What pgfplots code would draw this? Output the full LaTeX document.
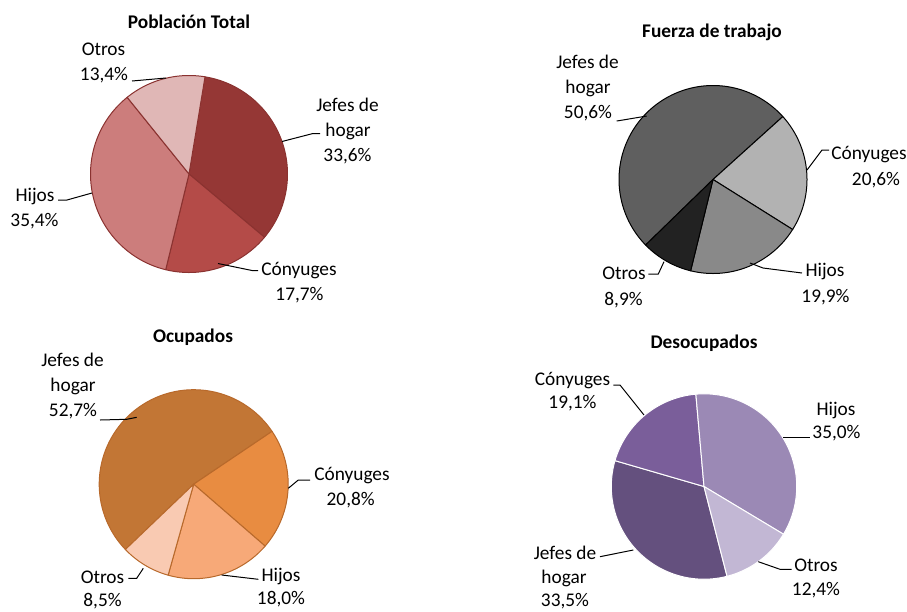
\documentclass[border=0pt]{standalone}
\usepackage{pgfplots}
\pgfplotsset{compat=1.18}
\usepackage{fontspec}
\setmainfont{Carlito}

\definecolor{pA1}{HTML}{953735}
\definecolor{pA2}{HTML}{B44B48}
\definecolor{pA3}{HTML}{CC7D7C}
\definecolor{pA4}{HTML}{E0B7B6}
\definecolor{eA}{HTML}{8A3230}
\definecolor{pB1}{HTML}{5F5F5F}
\definecolor{pB2}{HTML}{B2B2B2}
\definecolor{pB3}{HTML}{898989}
\definecolor{pB4}{HTML}{222222}
\definecolor{eB}{HTML}{000000}
\definecolor{pC1}{HTML}{C27635}
\definecolor{pC2}{HTML}{E88C41}
\definecolor{pC3}{HTML}{F7A978}
\definecolor{pC4}{HTML}{F9CAB2}
\definecolor{eC}{HTML}{B8692B}
\definecolor{pD1}{HTML}{64507E}
\definecolor{pD2}{HTML}{7A5E9A}
\definecolor{pD3}{HTML}{9B89B5}
\definecolor{pD4}{HTML}{C2B7D4}

% one slice: value (percent), colour; \cur = current angle (deg, counter-clockwise from east)
\newcommand\slice[2]{%
  \pgfmathsetmacro\nxt{\cur-3.6*#1}%
  \edef\doit{\noexpand\addplot[fill=#2,domain=\nxt:\cur,samples=90,variable=\noexpand\t]
    ({\pieR*cos(\noexpand\t)},{\pieR*sin(\noexpand\t)}) -- (axis cs:0,0) -- cycle;}%
  \doit
  \xdef\cur{\nxt}}

\pgfplotsset{pie/.style={hide axis, x=0.75pt, y=0.75pt,
  xmin=-105, xmax=105, ymin=-105, ymax=105, anchor=center, clip=false}}
\tikzset{lab/.style={anchor=base, inner sep=0pt, font=\fontsize{14.5}{17}\selectfont},
  ttl/.style={anchor=base, inner sep=0pt, font=\fontsize{14.5}{17}\selectfont\bfseries},
  ldr/.style={draw=black, line width=0.75pt}}

\begin{document}
\begin{tikzpicture}[x=0.75pt,y=-0.75pt]
\path[use as bounding box] (0,0) rectangle (907,611);

% ---------- Población Total ----------
\def\pieR{98.5}\gdef\cur{81}
\begin{axis}[pie, at={(141.75pt,-130.5pt)},
  every axis plot/.append style={draw=eA, line width=0.75pt, line join=round}]
\slice{33.6}{pA1}\slice{17.7}{pA2}\slice{35.4}{pA3}\slice{13.4}{pA4}
\end{axis}

% ---------- Fuerza de trabajo ----------
\def\pieR{94}\gdef\cur{-135.8}
\begin{axis}[pie, at={(534.75pt,-134.625pt)},
  every axis plot/.append style={draw=eB, line width=0.75pt, line join=round}]
\slice{50.6}{pB1}\slice{20.6}{pB2}\slice{19.9}{pB3}\slice{8.9}{pB4}
\end{axis}

% ---------- Ocupados ----------
\def\pieR{94.5}\gdef\cur{-136.3}
\begin{axis}[pie, at={(145.275pt,-363.15pt)},
  every axis plot/.append style={draw=eC, line width=0.75pt, line join=round}]
\slice{52.7}{pC1}\slice{20.8}{pC2}\slice{18.0}{pC3}\slice{8.5}{pC4}
\end{axis}

% ---------- Desocupados ----------
\def\pieR{92.7}\gdef\cur{-75.6}
\begin{axis}[pie, at={(528pt,-364.875pt)},
  every axis plot/.append style={draw=white, line width=0.75pt, line join=round}]
\slice{33.5}{pD1}\slice{19.1}{pD2}\slice{35.0}{pD3}\slice{12.4}{pD4}
\end{axis}

% ---------- titles ----------
\node[ttl] at (189,28.3) {Población Total};
\node[ttl] at (712,37.3) {Fuerza de trabajo};
\node[ttl] at (193,342.7) {Ocupados};
\node[ttl] at (704,348.3) {Desocupados};

% ---------- labels: Población Total ----------
\node[lab] at (103.5,55) {Otros};
\node[lab] at (104,80) {13,4\%};
\draw[ldr] (132,81) -- (166,78);
\node[lab] at (347.5,111) {Jefes de};
\node[lab] at (348,136) {hogar};
\node[lab] at (347.5,161) {33,6\%};
\draw[ldr] (282,141.5) -- (313,133.5) -- (320,133.5);
\node[lab] at (299,275) {Cónyuges};
\node[lab] at (299.5,300) {17,7\%};
\draw[ldr] (218,263.5) -- (253,270.7) -- (258,270.7);
\node[lab] at (35,201.7) {Hijos};
\node[lab] at (34.5,226.7) {35,4\%};
\draw[ldr] (58,200) -- (67,200) -- (92,193);

% ---------- labels: Fuerza de trabajo ----------
\node[lab] at (587.5,68.3) {Jefes de};
\node[lab] at (588,93.3) {hogar};
\node[lab] at (588,118.3) {50,6\%};
\draw[ldr] (616.7,121) -- (623,120) -- (646.7,116);
\node[lab] at (869,159) {Cónyuges};
\node[lab] at (876,185) {20,6\%};
\draw[ldr] (807,170) -- (822,150) -- (829,150);
\node[lab] at (825,276.7) {Hijos};
\node[lab] at (825.5,302.7) {19,9\%};
\draw[ldr] (750,263) -- (763,268) -- (802,273);
\node[lab] at (624,279.3) {Otros};
\node[lab] at (623.5,305) {8,9\%};
\draw[ldr] (648.3,274) -- (658.3,274) -- (664,261.7);

% ---------- labels: Ocupados ----------
\node[lab] at (72.5,366.7) {Jefes de};
\node[lab] at (73,391.7) {hogar};
\node[lab] at (73,416.7) {52,7\%};
\draw[ldr] (100,420) -- (126.7,419.3) -- (136.7,417.3);
\node[lab] at (352,480.7) {Cónyuges};
\node[lab] at (350.7,505) {20,8\%};
\draw[ldr] (288.3,488.3) -- (298.3,480) -- (310,480);
\node[lab] at (281,581.7) {Hijos};
\node[lab] at (281,604.5) {18,0\%};
\draw[ldr] (221.7,575) -- (258.3,579.3);
\node[lab] at (102.5,583.3) {Otros};
\node[lab] at (102.5,606) {8,5\%};
\draw[ldr] (128.3,578.3) -- (136.7,578.3) -- (143.3,568.3);

% ---------- labels: Desocupados ----------
\node[lab] at (572.5,385) {Cónyuges};
\node[lab] at (572.5,408.3) {19,1\%};
\draw[ldr] (613.3,385) -- (620,385) -- (644,415);
\node[lab] at (836,415) {Hijos};
\node[lab] at (836.5,438.3) {35,0\%};
\draw[ldr] (783.3,437.3) -- (810,437.3);
\node[lab] at (816,571.7) {Otros};
\node[lab] at (816,595) {12,4\%};
\draw[ldr] (758.3,561.7) -- (780,569.3) -- (791.7,569.3);
\node[lab] at (565,559.5) {Jefes de};
\node[lab] at (564,583.5) {hogar};
\node[lab] at (565,606) {33,5\%};
\draw[ldr] (600,556.7) -- (633.3,550);
\end{tikzpicture}
\end{document}
